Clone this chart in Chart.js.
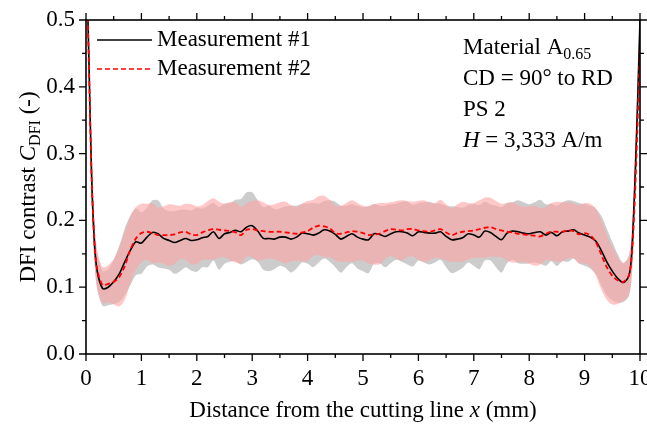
<!DOCTYPE html>
<html>
<head>
<meta charset="utf-8">
<script src="https://cdn.jsdelivr.net/npm/chart.js@4.4.1/dist/chart.umd.min.js"></script>
<style>
  html, body { margin: 0; padding: 0; background: #fff; }
</style>
</head>
<body>
<canvas id="dfi-chart" width="647" height="431"></canvas>
<script>
// Distance from the cutting line (mm)
var xValues = [0,0.05,0.1,0.15,0.2,
  0.3,0.4,0.5,0.6,0.7,0.8,0.9,
  1.0,1.1,1.2,1.3,1.4,1.5,1.6,1.7,1.8,1.9,
  2.0,2.1,2.2,2.3,2.4,2.5,2.6,2.7,2.8,2.9,
  3.0,3.1,3.2,3.3,3.4,3.5,3.6,3.7,3.8,3.9,
  4.0,4.1,4.2,4.3,4.4,4.5,4.6,4.7,4.8,4.9,
  5.0,5.1,5.2,5.3,5.4,5.5,5.6,5.7,5.8,5.9,
  6.0,6.1,6.2,6.3,6.4,6.5,6.6,6.7,6.8,6.9,
  7.0,7.1,7.2,7.3,7.4,7.5,7.6,7.7,7.8,7.9,
  8.0,8.1,8.2,8.3,8.4,8.5,8.6,8.7,8.8,8.9,
  9.0,9.1,9.2,9.3,9.4,9.5,9.6,9.7,9.8,
  9.85,9.9,9.95,10];

// Measurement #1 mean DFI contrast
var meas1 = [0.62,0.45,0.27,0.17,0.125,
  0.098,0.100,0.108,0.120,0.138,0.155,0.168,
  0.166,0.175,0.182,0.180,0.173,0.170,0.167,0.170,0.173,0.170,
  0.171,0.174,0.176,0.183,0.173,0.180,0.182,0.185,0.183,0.190,
  0.192,0.184,0.173,0.173,0.172,0.175,0.175,0.172,0.175,0.181,
  0.180,0.178,0.181,0.186,0.184,0.179,0.172,0.176,0.180,0.175,
  0.172,0.171,0.180,0.179,0.176,0.180,0.183,0.183,0.181,0.177,
  0.183,0.182,0.181,0.181,0.183,0.176,0.171,0.172,0.174,0.180,
  0.178,0.175,0.184,0.182,0.176,0.171,0.181,0.184,0.183,0.181,
  0.180,0.182,0.183,0.178,0.182,0.177,0.183,0.184,0.186,0.181,
  0.178,0.175,0.169,0.155,0.138,0.124,0.113,0.107,0.117,
  0.15,0.24,0.36,0.50];

// Measurement #2 mean DFI contrast
var meas2 = [0.60,0.44,0.27,0.17,0.128,
  0.103,0.105,0.108,0.115,0.132,0.156,0.173,
  0.181,0.183,0.181,0.178,0.178,0.178,0.179,0.182,0.183,0.179,
  0.178,0.182,0.185,0.187,0.186,0.185,0.184,0.182,0.178,0.186,
  0.187,0.185,0.184,0.183,0.183,0.183,0.182,0.181,0.180,0.182,
  0.184,0.189,0.192,0.191,0.188,0.181,0.180,0.182,0.184,0.183,
  0.181,0.178,0.179,0.180,0.184,0.187,0.186,0.185,0.187,0.187,
  0.185,0.184,0.183,0.185,0.187,0.182,0.178,0.181,0.183,0.184,
  0.185,0.187,0.189,0.190,0.187,0.185,0.183,0.182,0.180,0.179,
  0.178,0.177,0.176,0.180,0.183,0.183,0.183,0.185,0.184,0.179,
  0.181,0.178,0.168,0.149,0.130,0.117,0.110,0.108,0.118,
  0.145,0.22,0.33,0.46];

// standard deviation bands
var sd1 = [0.030,0.030,0.030,0.028,0.027,
  0.026,0.027,0.033,0.042,0.050,0.052,0.050,
  0.046,0.044,0.048,0.050,0.045,0.044,0.047,0.046,0.043,0.045,
  0.048,0.044,0.046,0.043,0.047,0.045,0.044,0.046,0.049,0.052,
  0.050,0.046,0.047,0.049,0.045,0.043,0.046,0.050,0.047,0.044,
  0.045,0.048,0.044,0.043,0.046,0.049,0.050,0.046,0.044,0.047,
  0.048,0.050,0.045,0.043,0.046,0.044,0.042,0.045,0.047,0.046,
  0.043,0.045,0.047,0.044,0.042,0.046,0.050,0.048,0.045,0.043,
  0.046,0.048,0.044,0.042,0.046,0.049,0.045,0.043,0.047,0.046,
  0.044,0.045,0.048,0.046,0.043,0.045,0.044,0.046,0.043,0.045,
  0.046,0.047,0.049,0.052,0.050,0.044,0.036,0.029,0.030,
  0.032,0.032,0.030,0.030];

var sd2 = [0.030,0.030,0.030,0.029,0.028,
  0.027,0.028,0.034,0.044,0.051,0.050,0.047,
  0.044,0.042,0.045,0.041,0.043,0.046,0.044,0.040,0.042,0.045,
  0.043,0.041,0.044,0.046,0.042,0.040,0.043,0.045,0.042,0.040,
  0.042,0.045,0.043,0.040,0.041,0.044,0.046,0.042,0.040,0.043,
  0.045,0.042,0.044,0.046,0.043,0.041,0.042,0.044,0.046,0.043,
  0.041,0.043,0.045,0.046,0.042,0.040,0.043,0.045,0.042,0.041,
  0.044,0.046,0.043,0.041,0.044,0.042,0.040,0.043,0.045,0.042,
  0.041,0.043,0.045,0.044,0.042,0.040,0.043,0.045,0.043,0.041,
  0.043,0.045,0.042,0.040,0.043,0.045,0.044,0.042,0.041,0.044,
  0.045,0.047,0.050,0.052,0.049,0.043,0.035,0.028,0.029,
  0.031,0.031,0.030,0.030];

var xTicks = [0,1,2,3,4,5,6,7,8,9,10];
var yTicks = [0,0.1,0.2,0.3,0.4,0.5];
var legendLabels = ["Measurement #1", "Measurement #2"];

var FONT = '"Liberation Serif", "Times New Roman", serif';
var FS = 23;  // main font size
var SUB = 16; // subscript size

function pts(ys) {
  return xValues.map(function (x, i) { return { x: x, y: ys[i] }; });
}
function band(ys, sd, sign) {
  return xValues.map(function (x, i) { return { x: x, y: ys[i] + sign * sd[i] }; });
}

// draws frame, ticks, legend and annotation text
var decorations = {
  id: 'decorations',
  afterDraw: function (chart) {
    var ctx = chart.ctx;
    var ca = chart.chartArea;
    var sx = chart.scales.x, sy = chart.scales.y;
    ctx.save();
    ctx.strokeStyle = '#000';
    ctx.lineWidth = 1.6;
    ctx.strokeRect(ca.left, ca.top, ca.right - ca.left, ca.bottom - ca.top);

    ctx.lineWidth = 1.3;
    ctx.beginPath();
    for (var i = 0; i < xTicks.length; i++) {
      var px = sx.getPixelForValue(xTicks[i]);
      ctx.moveTo(px, ca.bottom); ctx.lineTo(px, ca.bottom + 7);
      ctx.moveTo(px, ca.top); ctx.lineTo(px, ca.top - 7);
      if (i < xTicks.length - 1) {
        var pm = sx.getPixelForValue((xTicks[i] + xTicks[i + 1]) / 2);
        ctx.moveTo(pm, ca.bottom); ctx.lineTo(pm, ca.bottom + 4);
        ctx.moveTo(pm, ca.top); ctx.lineTo(pm, ca.top - 4);
      }
    }
    for (var j = 0; j < yTicks.length; j++) {
      var py = sy.getPixelForValue(yTicks[j]);
      ctx.moveTo(ca.left, py); ctx.lineTo(ca.left - 7, py);
      ctx.moveTo(ca.right, py); ctx.lineTo(ca.right + 7, py);
      if (j < yTicks.length - 1) {
        var qm = sy.getPixelForValue((yTicks[j] + yTicks[j + 1]) / 2);
        ctx.moveTo(ca.left, qm); ctx.lineTo(ca.left - 4, qm);
        ctx.moveTo(ca.right, qm); ctx.lineTo(ca.right + 4, qm);
      }
    }
    ctx.stroke();

    // legend
    ctx.lineWidth = 1.6;
    ctx.strokeStyle = '#000';
    ctx.beginPath(); ctx.moveTo(97, 40); ctx.lineTo(152, 40); ctx.stroke();
    ctx.strokeStyle = '#ff0000';
    ctx.setLineDash([5, 3]);
    ctx.beginPath(); ctx.moveTo(97, 69); ctx.lineTo(152, 69); ctx.stroke();
    ctx.setLineDash([]);
    ctx.fillStyle = '#000';
    ctx.font = FS + 'px ' + FONT;
    ctx.textBaseline = 'middle';
    ctx.fillText(legendLabels[0], 157, 40);
    ctx.fillText(legendLabels[1], 157, 69);

    // annotation
    ctx.textBaseline = 'alphabetic';
    var ax = 463;
    ctx.fillText('Material A', ax, 54);
    var w = ctx.measureText('Material A').width;
    ctx.font = SUB + 'px ' + FONT;
    ctx.fillText('0.65', ax + w, 59);
    ctx.font = FS + 'px ' + FONT;
    ctx.fillText('CD = 90\u00b0 to RD', ax, 85);
    ctx.fillText('PS 2', ax, 116);
    ctx.font = 'italic ' + FS + 'px ' + FONT;
    ctx.fillText('H', ax, 147);
    var wh = ctx.measureText('H').width;
    ctx.font = FS + 'px ' + FONT;
    ctx.fillText(' = 3,333 A/m', ax + wh, 147);

    // x axis title
    ctx.font = FS + 'px ' + FONT;
    var p1 = 'Distance from the cutting line ', p3 = ' (mm)';
    var w1 = ctx.measureText(p1).width, w3 = ctx.measureText(p3).width;
    ctx.font = 'italic ' + FS + 'px ' + FONT;
    var w2 = ctx.measureText('x').width;
    var cx = (ca.left + ca.right) / 2;
    var start = cx - (w1 + w2 + w3) / 2;
    ctx.font = FS + 'px ' + FONT;
    ctx.fillText(p1, start, 417);
    ctx.font = 'italic ' + FS + 'px ' + FONT;
    ctx.fillText('x', start + w1, 417);
    ctx.font = FS + 'px ' + FONT;
    ctx.fillText(p3, start + w1 + w2, 417);

    // y axis title (rotated)
    ctx.translate(35, (ca.top + ca.bottom) / 2);
    ctx.rotate(-Math.PI / 2);
    var q1 = 'DFI contrast ', q4 = ' (-)';
    ctx.font = FS + 'px ' + FONT;
    var v1 = ctx.measureText(q1).width, v4 = ctx.measureText(q4).width;
    ctx.font = 'italic ' + FS + 'px ' + FONT;
    var v2 = ctx.measureText('C').width;
    ctx.font = SUB + 'px ' + FONT;
    var v3 = ctx.measureText('DFI').width;
    var s = -(v1 + v2 + v3 + v4) / 2;
    ctx.font = FS + 'px ' + FONT;
    ctx.fillText(q1, s, 0);
    ctx.font = 'italic ' + FS + 'px ' + FONT;
    ctx.fillText('C', s + v1, 0);
    ctx.font = SUB + 'px ' + FONT;
    ctx.fillText('DFI', s + v1 + v2, 5);
    ctx.font = FS + 'px ' + FONT;
    ctx.fillText(q4, s + v1 + v2 + v3, 0);
    ctx.restore();
  }
};

var canvas = document.getElementById('dfi-chart');
var dfiChart = new Chart(canvas, {
  type: 'line',
  data: {
    datasets: [
      { label: 'sd1 low', data: band(meas1, sd1, -1), borderWidth: 0, pointRadius: 0, fill: false, order: 6 },
      { label: 'sd1 high', data: band(meas1, sd1, 1), borderWidth: 0, pointRadius: 0,
        fill: 0, backgroundColor: 'rgb(204,204,204)', order: 5 },
      { label: 'sd2 low', data: band(meas2, sd2, -1), borderWidth: 0, pointRadius: 0, fill: false, order: 4 },
      { label: 'sd2 high', data: band(meas2, sd2, 1), borderWidth: 0, pointRadius: 0,
        fill: 2, backgroundColor: 'rgba(255,163,163,0.6)', order: 3 },
      { label: legendLabels[0], data: pts(meas1), borderColor: '#000', borderWidth: 1.6,
        pointRadius: 0, fill: false, order: 2 },
      { label: legendLabels[1], data: pts(meas2), borderColor: '#ff0000', borderWidth: 1.8,
        borderDash: [5, 3], pointRadius: 0, fill: false, order: 1 }
    ]
  },
  options: {
    responsive: false,
    animation: false,
    devicePixelRatio: 1,
    layout: { padding: { top: 20, right: 7, left: 0, bottom: 0 } },
    plugins: { legend: { display: false }, tooltip: { enabled: false } },
    elements: { line: { tension: 0.3 } },
    scales: {
      x: {
        type: 'linear', min: 0, max: 10,
        grid: { display: false, drawTicks: false },
        border: { display: false },
        ticks: { stepSize: 1, color: '#000', padding: 11, maxRotation: 0,
                 font: { family: FONT, size: FS } },
        afterFit: function (s) { s.height = 77; s.paddingLeft = 0; s.paddingRight = 0; }
      },
      y: {
        min: 0, max: 0.5,
        grid: { display: false, drawTicks: false },
        border: { display: false },
        ticks: { stepSize: 0.1, color: '#000', padding: 11,
                 font: { family: FONT, size: FS } },
        afterFit: function (s) { s.width = 86; s.paddingTop = 0; s.paddingBottom = 0; }
      }
    }
  },
  plugins: [decorations]
});
// y tick labels with one decimal
dfiChart.options.scales.y.ticks.callback = function (v) { return v.toFixed(1); };
dfiChart.update();
</script>
</body>
</html>
